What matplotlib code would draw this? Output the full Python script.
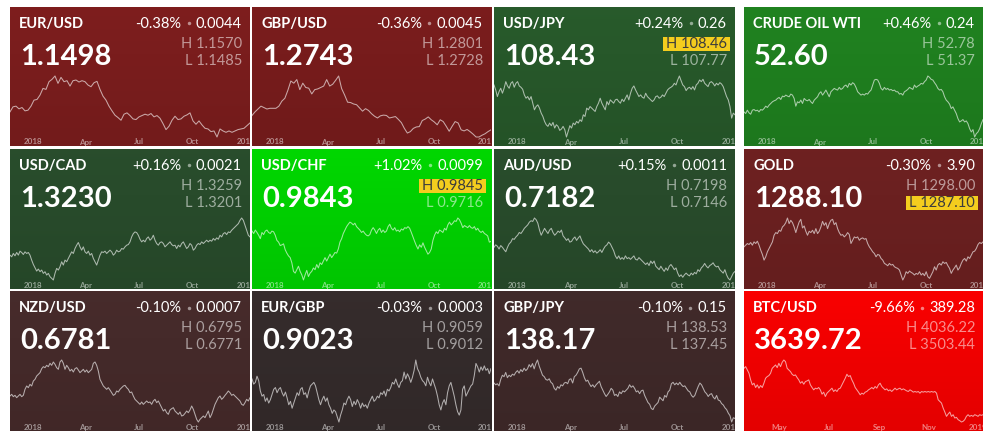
import matplotlib
matplotlib.use("Agg")
import matplotlib.pyplot as plt
import matplotlib.dates as mdates
import matplotlib.colors as mcolors
import matplotlib.transforms as mtransforms
from matplotlib.patches import Rectangle
import numpy as np
import pandas as pd

W, H = 1001, 444

# sparkline traces, read off the picture as screen rows (smaller = higher),
# evenly spaced from the first to the last day of each tile
eurusd = [335, 320, 318, 326, 322, 332, 330, 318, 300, 298, 285, 265, 268, 245, 238, 228, 250, 232, 245, 242,
          258, 242, 240, 246, 242, 245, 255, 260, 248, 244, 268, 288, 300, 318, 332, 345, 352, 360, 342, 338,
          346, 356, 358, 350, 346, 342, 345, 340, 350, 346, 354, 370, 388, 378, 360, 348, 358, 356, 348, 344,
          338, 362, 372, 362, 374, 384, 386, 394, 392, 410, 386, 392, 396, 392, 396, 392, 388, 386, 384, 376, 368]
gbpusd = [340, 330, 322, 314, 318, 322, 320, 320, 320, 314, 300, 292, 270, 244, 250, 240, 268, 250, 262, 264,
          280, 268, 266, 262, 258, 240, 258, 253, 242, 230, 265, 283, 303, 304, 308, 310, 319, 328, 321, 326,
          335, 342, 347, 341, 339, 340, 347, 345, 343, 351, 360, 376, 389, 385, 376, 372, 371, 354, 350, 344,
          352, 358, 366, 352, 357, 370, 384, 370, 357, 361, 380, 383, 379, 385, 392, 400, 400, 395, 391, 385, 380]
usdjpy = [255, 270, 290, 275, 265, 280, 265, 245, 258, 265, 250, 245, 262, 250, 245, 258, 262, 268, 285, 295,
          290, 300, 290, 310, 330, 320, 315, 325, 340, 350, 365, 375, 380, 370, 378, 368, 385, 375, 380, 392,
          388, 380, 390, 412, 395, 378, 385, 370, 375, 365, 370, 360, 365, 345, 350, 325, 330, 320, 325, 330,
          335, 320, 310, 295, 310, 320, 330, 305, 315, 300, 305, 310, 300, 298, 305, 310, 298, 305, 295, 285,
          300, 280, 265, 258, 270, 280, 290, 285, 292, 295, 280, 290, 295, 300, 305, 300, 290, 288, 295, 292,
          285, 290, 280, 270, 265, 262, 258, 250, 255, 240, 228, 242, 255, 260, 272, 265, 262, 268, 260, 270,
          255, 250, 240, 245, 238, 250, 255, 260, 248, 245, 250, 258, 250, 255, 248, 252, 260, 275, 290, 300,
          320, 355, 340, 345]
crude = [335, 340, 330, 338, 342, 330, 328, 332, 330, 335, 328, 330, 325, 318, 322, 315, 310, 305, 302, 300,
         295, 292, 298, 288, 290, 285, 288, 290, 282, 285, 295, 318, 305, 308, 300, 310, 295, 300, 302, 298,
         305, 310, 300, 295, 290, 280, 275, 285, 278, 270, 280, 290, 275, 270, 265, 268, 270, 262, 268, 265,
         258, 255, 262, 250, 255, 248, 252, 262, 275, 280, 285, 282, 285, 280, 282, 275, 270, 255, 240, 238,
         240, 250, 265, 270, 262, 268, 265, 270, 268, 272, 270, 275, 275, 282, 280, 285, 275, 272, 268, 262,
         265, 268, 255, 262, 258, 255, 250, 252, 245, 240, 228, 232, 238, 240, 248, 255, 265, 270, 268, 275,
         290, 300, 305, 312, 325, 320, 330, 340, 355, 365, 362, 358, 365, 362, 370, 385, 395, 388, 410, 400,
         395, 385, 370, 358]
usdcad = [330, 335, 325, 332, 322, 330, 318, 322, 328, 320, 325, 322, 330, 345, 358, 368, 378, 372, 380, 375,
          385, 380, 390, 385, 395, 400, 405, 385, 370, 375, 365, 350, 360, 345, 350, 340, 330, 320, 325, 310,
          300, 292, 305, 315, 305, 320, 325, 318, 330, 325, 340, 350, 360, 345, 330, 320, 322, 318, 325, 320,
          315, 320, 330, 325, 315, 320, 318, 310, 312, 305, 300, 298, 290, 275, 265, 260, 262, 270, 282, 290,
          285, 290, 280, 275, 285, 280, 270, 285, 295, 300, 292, 290, 295, 305, 300, 295, 290, 298, 302, 300,
          310, 300, 305, 295, 290, 300, 310, 305, 295, 300, 315, 310, 300, 295, 298, 290, 295, 290, 285, 290,
          285, 288, 280, 285, 278, 282, 270, 275, 265, 262, 268, 260, 262, 255, 250, 245, 240, 235, 225, 218,
          225, 240, 255, 270, 275]
usdchf = [258, 265, 255, 262, 270, 280, 262, 268, 258, 255, 262, 265, 258, 260, 270, 285, 290, 300, 298, 295,
          312, 322, 330, 335, 350, 375, 380, 370, 360, 375, 385, 400, 385, 372, 390, 380, 375, 365, 370, 355,
          365, 350, 355, 345, 335, 345, 335, 325, 335, 328, 320, 322, 310, 290, 280, 265, 255, 245, 238, 232,
          235, 240, 235, 245, 250, 255, 262, 258, 265, 270, 272, 268, 255, 248, 255, 265, 255, 250, 262, 255,
          262, 258, 245, 238, 250, 255, 248, 258, 255, 260, 252, 255, 248, 250, 245, 250, 262, 275, 288, 300,
          310, 298, 305, 292, 305, 315, 325, 320, 310, 285, 270, 260, 265, 255, 258, 262, 250, 255, 240, 232,
          240, 235, 228, 230, 220, 225, 235, 248, 242, 245, 248, 242, 248, 250, 245, 255, 250, 258, 262, 258,
          265, 268, 272, 290, 288]
audusd = [305, 298, 302, 310, 300, 305, 312, 318, 305, 295, 290, 280, 282, 275, 270, 262, 265, 258, 250, 245,
          240, 232, 228, 230, 220, 225, 235, 255, 270, 260, 250, 258, 265, 255, 250, 262, 270, 265, 258, 262,
          255, 272, 278, 285, 280, 290, 288, 280, 275, 285, 278, 272, 285, 295, 300, 305, 310, 318, 312, 320,
          315, 322, 318, 312, 320, 310, 302, 298, 290, 295, 305, 315, 330, 338, 330, 340, 335, 340, 330, 338,
          335, 340, 335, 330, 340, 342, 335, 340, 345, 350, 355, 350, 358, 345, 352, 345, 360, 365, 370, 360,
          368, 375, 365, 372, 360, 355, 362, 370, 365, 380, 390, 385, 392, 385, 380, 385, 388, 380, 385, 378,
          382, 370, 375, 365, 360, 352, 360, 365, 358, 355, 350, 358, 362, 360, 370, 375, 380, 370, 385, 395,
          400, 390, 380, 375]
gold = [305, 300, 295, 298, 292, 300, 290, 295, 288, 300, 315, 328, 345, 335, 320, 310, 300, 290, 270, 262,
        265, 255, 258, 245, 240, 232, 218, 235, 225, 232, 245, 262, 245, 230, 222, 248, 242, 258, 270, 258,
        262, 255, 265, 250, 265, 258, 245, 228, 240, 232, 250, 235, 225, 222, 238, 232, 250, 262, 270, 268,
        275, 270, 262, 268, 295, 285, 275, 278, 275, 285, 280, 278, 282, 280, 295, 305, 312, 320, 325, 335,
        328, 330, 340, 345, 355, 358, 362, 355, 360, 358, 365, 368, 370, 375, 390, 405, 395, 380, 385, 378,
        382, 385, 390, 385, 388, 380, 390, 385, 392, 380, 395, 400, 390, 380, 365, 375, 360, 355, 360, 350,
        355, 352, 362, 370, 385, 375, 368, 360, 375, 368, 355, 345, 340, 348, 335, 340, 330, 320, 318, 310,
        298, 292, 295, 290]
nzdusd = [320, 315, 322, 318, 325, 320, 315, 322, 318, 300, 290, 295, 285, 290, 275, 270, 260, 255, 250, 238,
          232, 235, 228, 232, 222, 228, 218, 225, 235, 240, 218, 212, 222, 240, 228, 235, 245, 240, 248, 238,
          235, 242, 250, 245, 240, 248, 242, 250, 245, 240, 222, 218, 228, 245, 270, 280, 290, 295, 300, 295,
          302, 310, 318, 315, 305, 308, 300, 295, 290, 288, 295, 300, 310, 308, 320, 330, 335, 340, 345, 338,
          345, 340, 335, 340, 338, 345, 335, 330, 340, 335, 345, 355, 365, 360, 370, 375, 362, 358, 355, 365,
          370, 375, 368, 380, 378, 372, 365, 370, 362, 350, 360, 375, 390, 398, 390, 385, 380, 385, 375, 365,
          385, 375, 360, 345, 335, 325, 320, 330, 325, 318, 312, 305, 310, 318, 315, 320, 325, 330, 335, 345,
          348, 340, 330, 335, 325]
eurgbp = [270, 285, 280, 262, 275, 305, 320, 315, 335, 325, 340, 330, 315, 300, 295, 310, 300, 295, 310, 320,
          308, 325, 345, 335, 355, 340, 325, 310, 318, 300, 295, 315, 310, 325, 305, 290, 285, 280, 290, 310,
          330, 345, 330, 320, 335, 325, 345, 355, 370, 360, 365, 380, 395, 375, 360, 340, 345, 330, 320, 330,
          350, 335, 345, 330, 340, 355, 340, 350, 345, 355, 340, 330, 320, 335, 330, 320, 325, 310, 315, 305,
          320, 300, 305, 295, 280, 285, 270, 285, 295, 280, 275, 250, 270, 255, 265, 280, 265, 245, 215, 240,
          250, 265, 275, 280, 290, 265, 280, 290, 270, 285, 300, 320, 345, 360, 340, 330, 345, 310, 290, 280,
          300, 320, 345, 365, 375, 360, 300, 290, 320, 310, 300, 290, 285, 260, 225, 235, 250, 235, 245, 232,
          245, 240, 255, 240]
gbpjpy = [280, 285, 282, 288, 270, 258, 262, 250, 265, 258, 262, 255, 258, 250, 245, 252, 242, 248, 238, 245,
          240, 228, 235, 225, 240, 225, 215, 232, 245, 258, 262, 270, 272, 268, 278, 282, 295, 300, 290, 295,
          285, 288, 280, 278, 282, 270, 268, 280, 262, 258, 250, 240, 238, 250, 265, 275, 272, 282, 290, 285,
          292, 285, 280, 275, 290, 300, 310, 318, 312, 305, 295, 300, 315, 312, 318, 305, 310, 302, 305, 300,
          295, 285, 292, 288, 295, 305, 302, 310, 302, 300, 315, 325, 335, 340, 352, 355, 345, 340, 335, 320,
          325, 330, 315, 320, 305, 300, 282, 278, 285, 280, 285, 278, 285, 290, 288, 295, 302, 305, 315, 320,
          315, 302, 290, 280, 285, 295, 305, 310, 318, 312, 310, 320, 325, 315, 328, 330, 338, 342, 350, 355,
          365, 372, 390, 378, 380]
btcusd = [240, 235, 245, 255, 275, 290, 285, 298, 290, 300, 292, 298, 285, 270, 265, 262, 255, 240, 235, 230,
          238, 225, 235, 222, 215, 220, 240, 245, 250, 258, 262, 260, 268, 275, 285, 280, 288, 280, 278, 275,
          290, 298, 305, 300, 302, 298, 305, 318, 312, 325, 315, 310, 305, 300, 310, 305, 310, 302, 300, 290,
          280, 270, 258, 265, 262, 275, 285, 298, 305, 312, 320, 315, 318, 312, 310, 305, 302, 298, 302, 295,
          300, 290, 285, 295, 300, 305, 302, 308, 305, 310, 305, 300, 305, 302, 300, 305, 302, 305, 308, 310,
          305, 308, 312, 310, 312, 310, 315, 310, 312, 310, 312, 310, 312, 310, 312, 310, 315, 335, 340, 345,
          360, 372, 385, 378, 372, 385, 380, 390, 388, 395, 398, 402, 400, 395, 385, 380, 385, 382, 385, 380,
          382, 385, 380, 382, 380]

names = ["EUR/USD", "GBP/USD", "USD/JPY", "CRUDE OIL WTI",
         "USD/CAD", "USD/CHF", "AUD/USD", "GOLD",
         "NZD/USD", "EUR/GBP", "GBP/JPY", "BTC/USD"]
prices = ["1.1498", "1.2743", "108.43", "52.60",
          "1.3230", "0.9843", "0.7182", "1288.10",
          "0.6781", "0.9023", "138.17", "3639.72"]
pct = ["-0.38%", "-0.36%", "+0.24%", "+0.46%",
       "+0.16%", "+1.02%", "+0.15%", "-0.30%",
       "-0.10%", "-0.03%", "-0.10%", "-9.66%"]
chg = ["0.0044", "0.0045", "0.26", "0.24",
       "0.0021", "0.0099", "0.0011", "3.90",
       "0.0007", "0.0003", "0.15", "389.28"]
highs = ["1.1570", "1.2801", "108.46", "52.78",
         "1.3259", "0.9845", "0.7198", "1298.00",
         "0.6795", "0.9059", "138.53", "4036.22"]
lows = ["1.1485", "1.2728", "107.77", "51.37",
        "1.3201", "0.9716", "0.7146", "1287.10",
        "0.6771", "0.9012", "137.45", "3503.44"]
marked = ["", "", "H", "", "", "H", "", "L", "", "", "", ""]
series = [eurusd, gbpusd, usdjpy, crude, usdcad, usdchf, audusd, gold,
          nzdusd, eurgbp, gbpjpy, btcusd]
tile_colors = ["#7a1d1d", "#771c1c", "#27582a", "#1f7f1f",
               "#284b2b", "#00d100", "#284b2b", "#6b2020",
               "#452a2a", "#342b2b", "#3f2929", "#f20000"]

fx_span = ("2017-11-22", "2019-01-07")
btc_span = ("2018-03-19", "2019-01-07")
fx_ticks = [("2018-01-01", "2018"), ("2018-04-01", "Apr"), ("2018-07-01", "Jul"),
            ("2018-10-01", "Oct"), ("2019-01-01", "2019")]
btc_ticks = [("2018-05-01", "May"), ("2018-07-01", "Jul"), ("2018-09-01", "Sep"),
             ("2018-11-01", "Nov"), ("2019-01-01", "2019")]

col_x = [(10, 250), (252, 491), (494, 735), (744, 983)]
row_y = [(7, 146), (149, 289), (291, 431)]

plt.rcParams["font.family"] = ["Lato", "DejaVu Sans"]

fig = plt.figure(figsize=(W / 100, H / 100), dpi=100, facecolor="white")
renderer = fig.canvas.get_renderer()

for i in range(12):
    r, c = divmod(i, 4)
    x0, x1 = col_x[c]
    y0, y1 = row_y[r]
    w, h = x1 - x0, y1 - y0
    rect = [x0 / W, 1 - y1 / H, w / W, h / H]

    # tile background with a soft vertical gradient
    bg = fig.add_axes(rect)
    bg.axis("off")
    base = np.array(mcolors.to_rgb(tile_colors[i]))
    grad = np.clip(np.linspace(1.03, 0.94, 64)[:, None, None] * base, 0, 1)
    bg.imshow(grad, aspect="auto", extent=(0, 1, 0, 1), interpolation="bilinear")
    bg.set_xlim(0, 1)
    bg.set_ylim(0, 1)

    ax = fig.add_axes(rect)
    ax.axis("off")

    def P(dx, dy):
        return dx / w, 1 - dy / h

    # sparkline
    vals = np.array(series[i], dtype=float)
    span = btc_span if i == 11 else fx_span
    x = mdates.date2num(pd.date_range(span[0], span[1], periods=len(vals)).to_pydatetime())
    ax.plot(x, vals, color="white", alpha=0.62, lw=0.75, solid_joinstyle="round")
    ax.set_xlim(x[0], x[-1])
    f_lo, f_hi = 9 / h, 1 - 69 / h
    top, bot = vals.min(), vals.max()
    slope = (top - bot) / (f_hi - f_lo)
    ax.set_ylim(bot - f_lo * slope, bot + (1 - f_lo) * slope)

    trans = mtransforms.blended_transform_factory(ax.transData, ax.transAxes)
    for d, lab in (btc_ticks if i == 11 else fx_ticks):
        ax.text(mdates.date2num(pd.Timestamp(d)), 4 / h, lab, transform=trans,
                ha="center", va="center", fontsize=5.8, fontweight="bold",
                color="white", alpha=0.5, clip_on=True)

    # header
    ax.text(*P(9, 21), names[i], transform=ax.transAxes, ha="left", va="baseline",
            fontsize=10.5, fontweight="bold", color="white")
    ax.text(*P(10, 58), prices[i], transform=ax.transAxes, ha="left", va="baseline",
            fontsize=21, fontweight="bold", color="white")

    t = ax.text(*P(w - 8, 21), chg[i], transform=ax.transAxes, ha="right", va="baseline",
                fontsize=10.5, color="white")
    tw = t.get_window_extent(renderer).width
    bx = w - 8 - tw - 7.5
    ax.plot([bx / w], [1 - 16.5 / h], marker="o", ms=2.5, mew=0, color="white",
            alpha=0.5, transform=ax.transAxes)
    ax.text(*P(bx - 7, 21), pct[i], transform=ax.transAxes, ha="right", va="baseline",
            fontsize=10.5, color="white")

    # day high / low
    for key, val, dy in (("H", highs[i], 41), ("L", lows[i], 58)):
        if marked[i] == key:
            t = ax.text(*P(w - 8, dy), key + " " + val, transform=ax.transAxes, ha="right",
                        va="baseline", fontsize=10.5, color="#3c3c3c", zorder=4)
            tw = t.get_window_extent(renderer).width
            ax.add_patch(Rectangle(((w - 8 - tw - 3) / w, 1 - (dy + 2.7) / h),
                                   (tw + 6) / w, 14 / h, transform=ax.transAxes,
                                   facecolor="#f4cd1e", edgecolor="none", zorder=3))
        else:
            ax.text(*P(w - 8, dy), key + " " + val, transform=ax.transAxes, ha="right",
                    va="baseline", fontsize=10.5, color="white", alpha=0.55)

fig.savefig("out.png", dpi=100, facecolor="white")
